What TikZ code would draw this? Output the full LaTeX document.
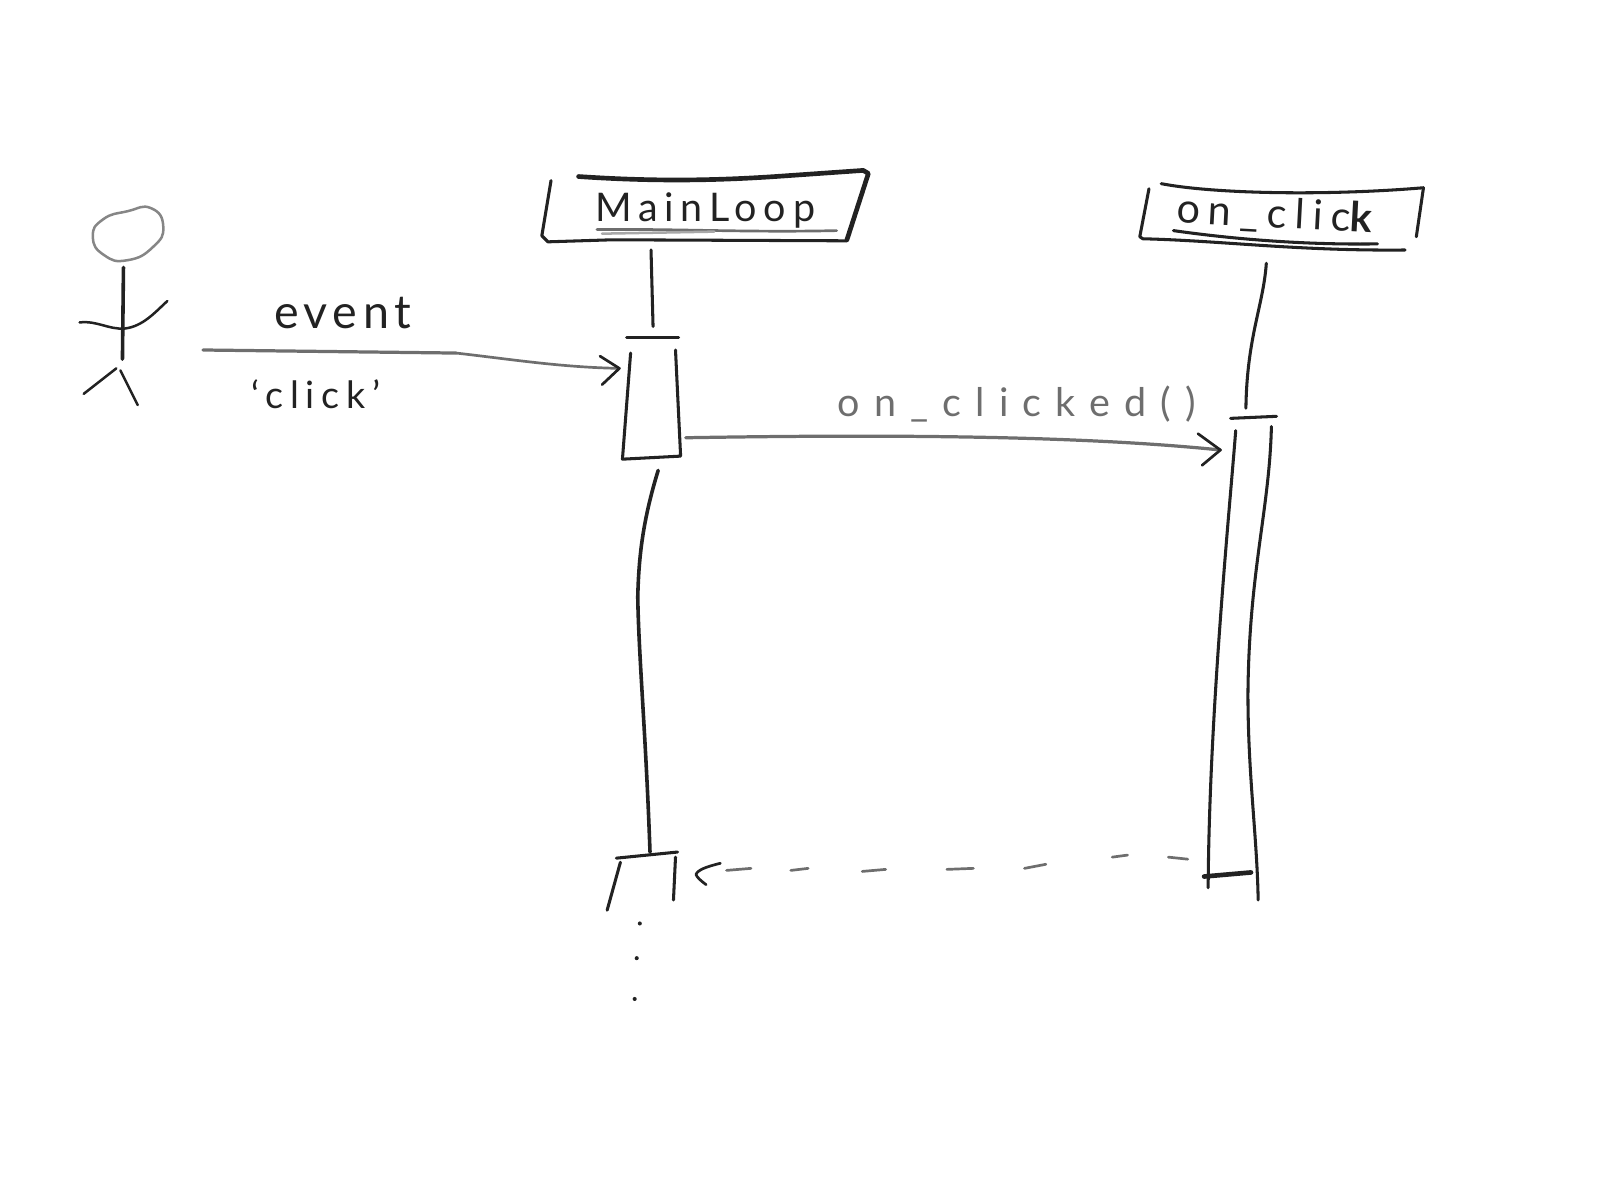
\documentclass[tikz,border=0pt]{standalone}
\usepackage{fontspec}
\newfontfamily\hand{Lato}
\definecolor{ink}{HTML}{222222}
\definecolor{pale}{HTML}{6E6E6E}
\definecolor{lightink}{HTML}{A8A8A8}
\newcommand{\handat}[2]{\hand\fontsize{#1}{#1}\selectfont\addfontfeature{LetterSpace=#2}}

\begin{document}
\begin{tikzpicture}[
    x=0.01cm, y=-0.01cm,
    every node/.style={inner sep=0pt, anchor=base west},
    pen/.style={draw=ink, line width=0.85pt, line cap=round, line join=round},
    heavy/.style={pen, line width=1.3pt},
    faint/.style={pen, draw=pale, line width=0.75pt},
    ghost/.style={pen, draw=lightink, line width=0.7pt},
    word/.style={text=ink},
    thinword/.style={text=pale},
]
\useasboundingbox (0,0) rectangle (1568,1176);

% ---------------------------------------------------------- stick figure
\draw[ghost, draw=lightink!80!black] plot[smooth cycle, tension=0.9] coordinates
    {(91,232) (101,215) (125,207) (148,204) (160,222) (150,242) (125,255) (102,250)};
\draw[heavy, line width=1pt] (121,262) -- (120,352);
\draw[pen, line width=0.7pt] (78,316) .. controls (95,314) and (106,323) .. (122,322)
    .. controls (140,320) and (152,306) .. (164,295);
\draw[pen, line width=0.7pt] (114,361) -- (82,386);
\draw[pen, line width=0.7pt] (118,363) -- (135,397);

% ---------------------------------------------------------- MainLoop head
\draw[heavy] (567,173) .. controls (640,178) and (700,177) .. (760,173)
    -- (846,167) -- (851,170) -- (830,235);
\draw[pen] (830,236) -- (600,235) -- (537,237) -- (531,231) -- (540,177);
\node[word, font=\handat{11}{17}] (mainlab) at (583,217) {MainLoop};
\draw[faint] (585,225) .. controls (660,224) and (730,228) .. (820,226);
\draw[ghost] (590,229) -- (700,227);

% ---------------------------------------------------------- on_click head
\draw[pen] (1138,180) .. controls (1190,190) and (1300,192) .. (1395,184);
\draw[pen] (1395,184) -- (1388,232);
\draw[pen] (1126,185) -- (1117,232) -- (1120,234) .. controls (1200,236) and (1270,246) .. (1377,245);
\draw[pen] (1150,226) .. controls (1220,236) and (1290,240) .. (1350,239);
\node[word, rotate=-3, font=\handat{11.5}{20}] (clicklab) at (1152,218)
    {on\_clic{\bfseries k}};

% ---------------------------------------------------------- lifelines
\draw[pen] (638,245) -- (640,320);
\draw[pen, line width=1pt] (645,461) .. controls (630,510) and (626,545) .. (625,585)
    .. controls (626,645) and (633,720) .. (637,835);
\draw[pen] (1241,258) .. controls (1238,300) and (1222,330) .. (1221,400);

% ---------------------------------------------------------- activation bars
\draw[pen] (614,331) -- (665,331);
\draw[pen] (618,346) -- (610,450) -- (667,447) -- (662,343);
\draw[pen] (604,841) -- (664,835);
\draw[pen] (608,845) -- (595,892);
\draw[pen] (662,840) -- (660,882);
\draw[pen] (1206,410) -- (1251,408);
\draw[pen] (1211,422) .. controls (1205,500) and (1185,700) .. (1184,870);
\draw[pen] (1246,418) .. controls (1244,500) and (1224,560) .. (1223,680)
    .. controls (1223,760) and (1232,820) .. (1233,882);
\draw[heavy] (1180,859) -- (1226,855);

% ---------------------------------------------------------- event
\coordinate (eventfrom) at (199,343);
\coordinate (eventbend) at (447,346);
\coordinate (eventto) at (607,361);
\draw[faint, line width=0.9pt] (eventfrom) -- (eventbend);
\draw[faint] (eventbend) .. controls (500,352) and (550,360) .. (eventto);
\draw[faint, draw=ink] (588,349) -- (eventto) -- (590,377);
\node[word, font=\handat{13}{12}] (eventlab) at (268,322) {event};
\node[thinword, text=ink, font=\handat{10.5}{18}] (argumentlab) at (246,400) {‘click’};

% ---------------------------------------------------------- on_clicked()
\coordinate (callfrom) at (672,429);
\coordinate (callto) at (1196,441);
\draw[faint, line width=0.9pt] (callfrom) .. controls (850,426) and (1050,426) .. (callto);
\draw[faint, draw=ink] (1174,425) -- (callto) -- (1178,456);
\node[thinword, font=\handat{11}{36}] (calllab) at (820,408) {on\_clicked()};

% ---------------------------------------------------------- return
\coordinate (backto) at (682,857);
\draw[faint, draw=ink] (706,846) .. controls (694,849) and (684,852) .. (backto)
    .. controls (683,860) and (688,864) .. (692,867);
\foreach \xa/\ya/\xb/\yb in {712/853/736/851, 775/853/792/851, 845/854/868/852,
    928/852/954/851, 1004/851/1025/847, 1090/840/1105/838, 1145/840/1164/842} {
  \draw[faint] (\xa,\ya) -- (\xb,\yb);
}

% ---------------------------------------------------------- trailing dots
\foreach \xd/\yd in {627/905, 624/939, 622/979} {
  \fill[ink] (\xd,\yd) circle (2);
}
\end{tikzpicture}
\end{document}
